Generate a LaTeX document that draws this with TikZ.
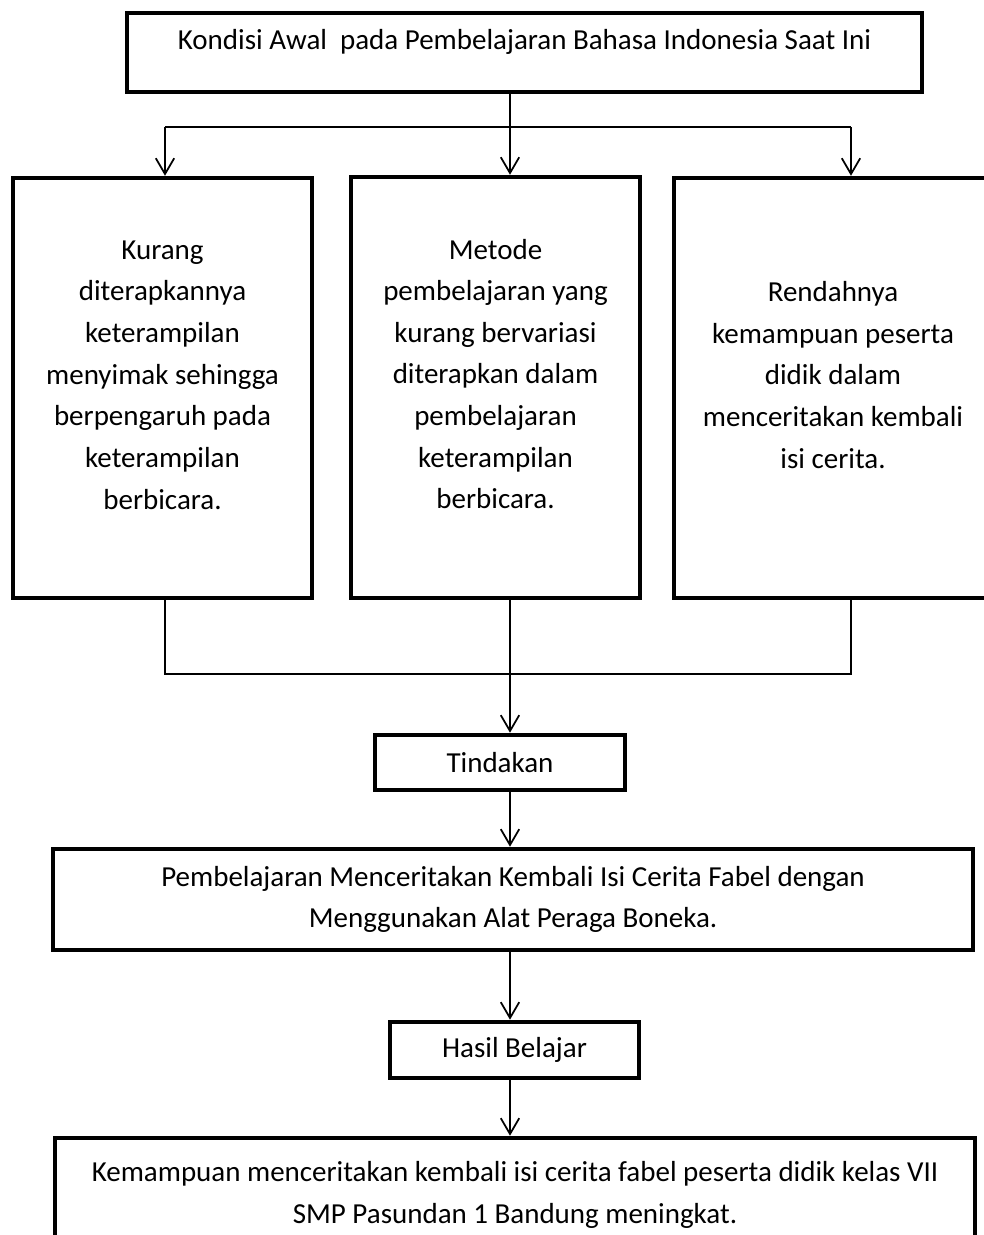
\documentclass[tikz,border=0pt]{standalone}
\usepackage{fontspec}
\setmainfont{Carlito}
\usetikzlibrary{arrows.meta}

\tikzset{
	kotak/.style={draw, line width=2.6pt, inner sep=0pt},
	teks/.style={align=center, inner sep=0pt, font=\fontsize{16.5}{23.7}\selectfont},
	garis/.style={line width=1pt},
	panah/.style={line width=1pt, -{Straight Barb[length=9pt,width=10.5pt]}}
}

\begin{document}
\begin{tikzpicture}[x=0.02cm, y=-0.02cm]
	\useasboundingbox (0,0) rectangle (984,1235);
	\clip (0,0) rectangle (984,1235);
	% kotak atas
	\node[kotak, minimum width=15.9cm, minimum height=1.58cm] (awal) at (524.5,52.5) {};
	\node[teks] (awaltxt) at ([yshift=0.21cm]awal.center) {Kondisi Awal\ \ pada Pembelajaran Bahasa Indonesia Saat Ini};
	% tiga masalah
	\node[kotak, minimum width=5.98cm, minimum height=8.4cm] (kurang) at (162.5,388) {};
	\node[teks] (kurangtxt) at ([yshift=0.26cm]kurang.center) {Kurang\\diterapkannya\\keterampilan\\menyimak sehingga\\berpengaruh pada\\keterampilan\\berbicara.};
	\node[kotak, minimum width=5.78cm, minimum height=8.42cm] (metode) at (495.5,387.5) {};
	\node[teks] (metodetxt) at ([yshift=0.27cm]metode.center) {Metode\\pembelajaran yang\\kurang bervariasi\\diterapkan dalam\\pembelajaran\\keterampilan\\berbicara.};
	\node[kotak, minimum width=6.36cm, minimum height=8.4cm] (rendah) at (833,388) {};
	\node[teks] (rendahtxt) at ([yshift=0.26cm]rendah.center) {Rendahnya\\kemampuan peserta\\didik dalam\\menceritakan kembali\\isi cerita.};
	% tindakan dan hasil
	\node[kotak, teks, minimum width=5cm, minimum height=1.1cm] (tindakan) at (500,762.5) {Tindakan};
	\node[kotak, teks, minimum width=18.4cm, minimum height=2.02cm] (pembelajaran) at (513,899.5) {Pembelajaran Menceritakan Kembali Isi Cerita Fabel dengan\\Menggunakan Alat Peraga Boneka.};
	\node[kotak, teks, minimum width=4.98cm, minimum height=1.12cm] (hasil) at (514.5,1050) {Hasil Belajar};
	\node[kotak, minimum width=18.4cm, minimum height=3.24cm] (kemampuan) at (515,1219) {};
	\node[teks] (kemampuantxt) at (515,1195) {Kemampuan menceritakan kembali isi cerita fabel peserta didik kelas VII\\SMP Pasundan 1 Bandung meningkat.};
	% percabangan
	\coordinate (kiri) at (165,127);
	\coordinate (pusat) at (510,127);
	\coordinate (kanan) at (851,127);
	\draw[garis] (pusat |- awal.south) -- (pusat);
	\draw[garis] (kiri) -- (kanan);
	\draw[panah] (kiri) -- (kiri |- kurang.north);
	\draw[panah] (pusat) -- (pusat |- metode.north);
	\draw[panah] (kanan) -- (kanan |- rendah.north);
	% penggabungan
	\coordinate (kiribawah) at (165,674);
	\coordinate (kananbawah) at (851,674);
	\draw[garis] (kiri |- kurang.south) -- (kiribawah) -- (kananbawah) -- (kanan |- rendah.south);
	\draw[panah] (pusat |- metode.south) -- (pusat |- tindakan.north);
	\draw[panah] (pusat |- tindakan.south) -- (pusat |- pembelajaran.north);
	\draw[panah] (pusat |- pembelajaran.south) -- (pusat |- hasil.north);
	\draw[panah] (pusat |- hasil.south) -- (pusat |- kemampuan.north);
\end{tikzpicture}
\end{document}
